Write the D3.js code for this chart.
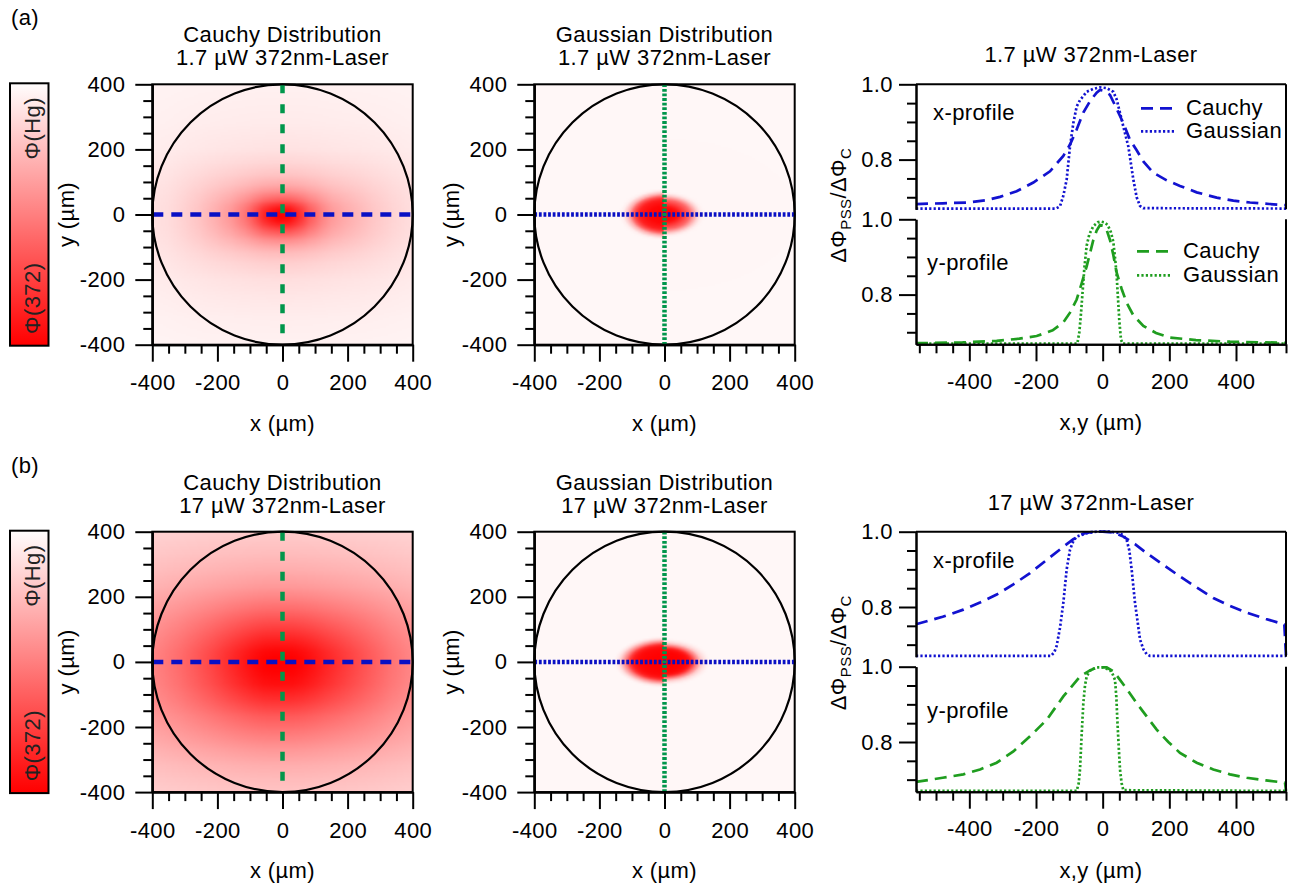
<!DOCTYPE html>
<html>
<head>
<meta charset="utf-8">
<script src="https://cdn.jsdelivr.net/npm/d3@7"></script>
<style>
  body { margin: 0; background: #fff; }
  svg  { display: block; }
</style>
</head>
<body>
<svg id="fig" width="1292" height="886"></svg>
<script>
// ─── Profile data (position in µm, ΔΦPSS/ΔΦc) ───
// (a) 1.7 µW
const a_cauchyX_pos = [-560,-480,-408,-350,-308,-258,-208,-158,-118,-98,-78,-58,-38,-18,-8,2,22,42,62,82,102,122,152,192,232,282,342,392,442,500,550];
const a_cauchyX_val = [0.682,0.684,0.686,0.692,0.701,0.716,0.739,0.769,0.810,0.840,0.880,0.925,0.955,0.978,0.985,0.983,0.972,0.935,0.897,0.852,0.825,0.795,0.765,0.745,0.730,0.713,0.699,0.691,0.686,0.682,0.679];
const a_gaussX_pos  = [-560,-140,-128,-118,-108,-98,-88,-78,-68,-48,-28,-8,12,32,42,57,67,77,92,102,112,122,550];
const a_gaussX_val  = [0.670,0.670,0.676,0.704,0.747,0.835,0.897,0.941,0.958,0.980,0.988,0.992,0.990,0.980,0.960,0.906,0.870,0.835,0.747,0.700,0.677,0.671,0.670];
const a_cauchyY_pos = [-560,-420,-318,-250,-198,-150,-118,-98,-78,-63,-48,-38,-28,-18,-8,2,12,22,32,42,57,72,92,122,160,202,280,382,550];
const a_cauchyY_val = [0.671,0.673,0.677,0.683,0.690,0.705,0.726,0.752,0.787,0.830,0.875,0.910,0.945,0.970,0.985,0.983,0.972,0.945,0.905,0.858,0.815,0.778,0.745,0.717,0.698,0.686,0.679,0.675,0.672];
const a_gaussY_pos  = [-560,-76,-70,-65,-60,-55,-48,-40,-28,-15,-5,5,15,25,32,38,42,46,50,55,60,550];
const a_gaussY_val  = [0.670,0.670,0.700,0.750,0.810,0.870,0.930,0.960,0.982,0.992,0.994,0.992,0.985,0.965,0.940,0.890,0.850,0.790,0.730,0.680,0.670,0.670];

// (b) 17 µW
const b_cauchyX_pos = [-560,-480,-418,-368,-318,-268,-218,-168,-118,-88,-58,-28,0,32,62,97,132,182,232,282,332,382,432,490,545,550];
const b_cauchyX_val = [0.754,0.774,0.793,0.812,0.833,0.860,0.890,0.925,0.960,0.980,0.995,1.0,1.0,0.998,0.987,0.967,0.943,0.912,0.881,0.852,0.824,0.803,0.785,0.768,0.754,0.670];
const b_gaussX_pos  = [-560,-155,-145,-138,-128,-118,-108,-98,-88,-78,-48,-18,22,52,62,72,80,87,97,105,112,122,132,142,550];
const b_gaussX_val  = [0.670,0.670,0.680,0.697,0.745,0.811,0.900,0.952,0.975,0.987,0.996,1.0,1.0,0.996,0.990,0.978,0.950,0.899,0.811,0.760,0.714,0.688,0.675,0.670,0.670];
const b_cauchyY_pos = [-560,-480,-418,-368,-318,-268,-218,-168,-118,-68,-38,-18,12,32,52,77,102,132,162,197,232,282,332,382,432,490,547,550];
const b_cauchyY_val = [0.694,0.705,0.714,0.727,0.745,0.775,0.815,0.859,0.921,0.974,0.990,0.998,0.998,0.988,0.965,0.935,0.903,0.868,0.833,0.800,0.771,0.745,0.727,0.714,0.705,0.698,0.692,0.670];
const b_gaussY_pos  = [-560,-78,-72,-68,-63,-58,-53,-48,-38,-18,2,22,30,37,41,44,48,52,57,62,550];
const b_gaussY_val  = [0.670,0.670,0.690,0.727,0.820,0.903,0.950,0.974,0.990,0.998,0.998,0.991,0.980,0.965,0.920,0.859,0.790,0.727,0.690,0.672,0.670];

// ─── Axis ticks / labels ───
const mapMajor   = [-400, -200, 0, 200, 400];
const mapMinor   = [-350, -300, -250, -150, -100, -50, 50, 100, 150, 250, 300, 350];
const profMajorX = [-400, -200, 0, 200, 400];
const profMinorX = d3.range(-550, 551, 50).filter(v => v % 200 !== 0);
const profMajorY = [0.8, 1.0];
const profMinorY = [0.7, 0.75, 0.85, 0.9, 0.95];
const panelTags  = ['(a)', '(b)'];
const powers     = ['1.7 µW', '17 µW'];

// ─── Layout ───
const FONT   = '"Liberation Sans", Arial, Helvetica, sans-serif';
const FS     = 22;
const ROW_T  = [84.3, 531.7];
const MAP_X  = [152.3, 534.3];
const MAP_W  = 260.4;
const PROF_L = 916, PROF_R = 1286;
const PAN_H  = 125, PAN_GAP = 10;
const BLUE_MAP = '#0a10c4', GREEN_MAP = '#00964b';
const BLUE = '#1212d0', GREEN = '#1f9d1f';
const BASE = 0.667;

const svg = d3.select('#fig')
  .attr('font-family', FONT)
  .style('letter-spacing', '0.4px');
svg.append('rect').attr('width', 1292).attr('height', 886).attr('fill', '#fff');
const defs = svg.append('defs');

// colour scale shared by maps and colour bar
const shade = d3.scaleLinear().domain([0, 1]).range(['#fffdfd', '#ff0000']);
const gamma = t => shade(Math.pow(Math.max(0, Math.min(1, t)), 0.8));

function txt(g, x, y, s, anchor = 'middle', size = FS) {
  return g.append('text').attr('x', x).attr('y', y).attr('text-anchor', anchor)
    .attr('font-size', size).attr('fill', '#000').text(s);
}

function styleAxis(sel) {
  sel.attr('font-family', FONT).attr('font-size', FS);
  sel.selectAll('path').attr('stroke', '#000').attr('stroke-width', 2);
  sel.selectAll('line').attr('stroke', '#000').attr('stroke-width', 2);
  sel.selectAll('text').attr('fill', '#000');
}

// half width at half maximum of a normalised profile
function halfWidth(n) {
  const inside = d3.range(-400, 401, 1).filter(u => n(u) > 0.5);
  return (d3.max(inside) - d3.min(inside)) / 2;
}

// ─── Heat map (Cauchy or Gaussian) ───
function heatMap(g, x0, top, kind, xPos, xVal, yPos, yVal, title1, title2, ylabX) {
  const sx = d3.scaleLinear().domain([-400, 400]).range([x0, x0 + MAP_W]);
  const sy = d3.scaleLinear().domain([-400, 400]).range([top + MAP_W, top]);

  const fx = d3.scaleLinear().domain(xPos).range(xVal).clamp(true);
  const fy = d3.scaleLinear().domain(yPos).range(yVal).clamp(true);
  const px = d3.max(xVal), py = d3.max(yVal);
  const nx = u => Math.max(1e-4, (fx(u) - BASE) / (px - BASE));
  const ny = u => Math.max(1e-4, (fy(u) - BASE) / (py - BASE));
  const k = halfWidth(nx) / halfWidth(ny);

  const N = 161;
  const cv = document.createElement('canvas');
  cv.width = N; cv.height = N;
  const ctx = cv.getContext('2d');
  const im = ctx.createImageData(N, N);
  const grid = d3.scaleLinear().domain([0, N - 1]).range([-400, 400]);
  for (let j = 0; j < N; j++) {
    for (let i = 0; i < N; i++) {
      const ux = grid(i), uy = -grid(j);
      let I;
      if (kind === 'cauchy') {
        I = 1 / (1 / nx(ux) + 1 / ny(uy) - 1);
      } else {
        const r = Math.sqrt(ux * ux + (k * uy) * (k * uy));
        I = nx(ux < 0 ? -r : r);
      }
      const c = d3.rgb(gamma(I));
      const p = (j * N + i) * 4;
      im.data[p] = c.r; im.data[p + 1] = c.g; im.data[p + 2] = c.b; im.data[p + 3] = 255;
    }
  }
  ctx.putImageData(im, 0, 0);

  g.append('image')
    .attr('href', cv.toDataURL())
    .attr('x', x0).attr('y', top).attr('width', MAP_W).attr('height', MAP_W)
    .attr('preserveAspectRatio', 'none');

  // aperture circle
  g.append('circle')
    .attr('cx', sx(0)).attr('cy', sy(0)).attr('r', sx(400) - sx(0))
    .attr('fill', 'none').attr('stroke', '#000').attr('stroke-width', 2.2);

  // profile cut lines
  const dashH = kind === 'cauchy' ? '11,8' : '2.8,1.8';
  const dashV = kind === 'cauchy' ? '9,11' : '2.8,1.8';
  g.append('line').attr('x1', sx(-400)).attr('x2', sx(400)).attr('y1', sy(0)).attr('y2', sy(0))
    .attr('stroke', BLUE_MAP).attr('stroke-width', 4.5).attr('stroke-dasharray', dashH);
  g.append('line').attr('x1', sx(0)).attr('x2', sx(0)).attr('y1', sy(400)).attr('y2', sy(-400))
    .attr('stroke', GREEN_MAP).attr('stroke-width', 4.5).attr('stroke-dasharray', dashV);

  // frame
  g.append('rect').attr('x', x0).attr('y', top).attr('width', MAP_W).attr('height', MAP_W)
    .attr('fill', 'none').attr('stroke', '#000').attr('stroke-width', 2);

  const fmt = d => String(d);
  const ax = g.append('g').attr('transform', `translate(0,${top + MAP_W})`);
  ax.call(d3.axisBottom(sx).tickValues(mapMajor).tickFormat(fmt).tickSize(17).tickSizeOuter(0).tickPadding(13));
  styleAxis(ax);
  const axm = g.append('g').attr('transform', `translate(0,${top + MAP_W})`);
  axm.call(d3.axisBottom(sx).tickValues(mapMinor).tickFormat('').tickSize(9).tickSizeOuter(0));
  styleAxis(axm);

  const ay = g.append('g').attr('transform', `translate(${x0},0)`);
  ay.call(d3.axisLeft(sy).tickValues(mapMajor).tickFormat(fmt).tickSize(17).tickSizeOuter(0).tickPadding(10));
  styleAxis(ay);
  const aym = g.append('g').attr('transform', `translate(${x0},0)`);
  aym.call(d3.axisLeft(sy).tickValues(mapMinor).tickFormat('').tickSize(9).tickSizeOuter(0));
  styleAxis(aym);

  txt(g, x0 + MAP_W / 2, top - 42, title1);
  txt(g, x0 + MAP_W / 2, top - 19, title2);
  txt(g, x0 + MAP_W / 2, top + MAP_W + 86, 'x (µm)');
  g.append('text').attr('transform', `translate(${ylabX},${top + MAP_W / 2}) rotate(-90)`)
    .attr('text-anchor', 'middle').attr('font-size', FS).text('y (µm)');
}

// ─── Profile panel pair ───
function profiles(g, top, xc, xg, yc, yg, power, legend) {
  const sx = d3.scaleLinear().domain([-560, 550]).range([PROF_L, PROF_R]);
  const syU = d3.scaleLinear().domain([0.668, 1]).range([top + PAN_H, top]);
  const lowTop = top + PAN_H + PAN_GAP;
  const syL = d3.scaleLinear().domain([0.668, 1]).range([lowTop + PAN_H, lowTop]);

  const curve = (s, pos, val, color, dash) => {
    const pts = pos.map((p, i) => [p, val[i]]);
    g.append('path').datum(pts)
      .attr('d', d3.line().x(d => sx(d[0])).y(d => s(d[1])))
      .attr('fill', 'none').attr('stroke', color).attr('stroke-width', 2.7)
      .attr('stroke-dasharray', dash);
  };
  const DASH = '12,7', DOT = '2.2,2.2';
  curve(syU, xc[0], xc[1], BLUE, DASH);
  curve(syU, xg[0], xg[1], BLUE, DOT);
  curve(syL, yc[0], yc[1], GREEN, DASH);
  curve(syL, yg[0], yg[1], GREEN, DOT);

  // frame lines
  const ln = (x1, y1, x2, y2) => g.append('line').attr('x1', x1).attr('y1', y1).attr('x2', x2).attr('y2', y2)
    .attr('stroke', '#000').attr('stroke-width', 2);
  ln(PROF_L, top, PROF_R, top);
  ln(PROF_R, top, PROF_R, top + PAN_H);
  ln(PROF_R, lowTop, PROF_R, lowTop + PAN_H);

  const f1 = d3.format('.1f');
  [syU, syL].forEach(s => {
    const a = g.append('g').attr('transform', `translate(${PROF_L},0)`);
    a.call(d3.axisLeft(s).tickValues(profMajorY).tickFormat(f1).tickSize(17).tickSizeOuter(0).tickPadding(6));
    styleAxis(a);
    const am = g.append('g').attr('transform', `translate(${PROF_L},0)`);
    am.call(d3.axisLeft(s).tickValues(profMinorY).tickFormat('').tickSize(9).tickSizeOuter(0));
    styleAxis(am);
  });

  const ax = g.append('g').attr('transform', `translate(0,${lowTop + PAN_H})`);
  ax.call(d3.axisBottom(sx).tickValues(profMajorX).tickFormat(d => String(d)).tickSize(17).tickSizeOuter(0).tickPadding(12));
  styleAxis(ax);
  const axm = g.append('g').attr('transform', `translate(0,${lowTop + PAN_H})`);
  axm.call(d3.axisBottom(sx).tickValues(profMinorX).tickFormat('').tickSize(9).tickSizeOuter(0));
  styleAxis(axm);

  txt(g, 1091, top - 22, `${power} 372nm-Laser`);
  txt(g, 933, top + 36, 'x-profile', 'start');
  txt(g, 927, top + 186, 'y-profile', 'start');
  txt(g, (PROF_L + PROF_R) / 2, lowTop + PAN_H + 86, 'x,y (µm)');

  const yl = g.append('text')
    .attr('transform', `translate(846,${top + 121}) rotate(-90)`)
    .attr('text-anchor', 'middle').attr('font-size', FS);
  yl.append('tspan').text('ΔΦ');
  yl.append('tspan').attr('font-size', 15).attr('dy', 5).text('PSS');
  yl.append('tspan').attr('dy', -5).text('/ΔΦ');
  yl.append('tspan').attr('font-size', 15).attr('dy', 5).text('C');

  if (legend) {
    const item = (y, color, dash, label, x1, x2, tx) => {
      g.append('line').attr('x1', x1).attr('x2', x2).attr('y1', y).attr('y2', y)
        .attr('stroke', color).attr('stroke-width', 2.7).attr('stroke-dasharray', dash);
      txt(g, tx, y + 7, label, 'start');
    };
    item(top + 24,  BLUE,  DASH, 'Cauchy',   1141, 1174, 1186);
    item(top + 47,  BLUE,  DOT,  'Gaussian', 1141, 1174, 1186);
    item(top + 167, GREEN, DASH, 'Cauchy',   1137, 1170, 1183);
    item(top + 191, GREEN, DOT,  'Gaussian', 1137, 1170, 1183);
  }
}

// ─── Colour bar ───
const grad = defs.append('linearGradient').attr('id', 'cbar')
  .attr('x1', 0).attr('y1', 0).attr('x2', 0).attr('y2', 1);
d3.range(0, 1.001, 0.1).forEach(t => {
  grad.append('stop').attr('offset', t).attr('stop-color', shade(t));
});

function colourBar(g, top) {
  g.append('rect').attr('x', 10).attr('y', top - 1).attr('width', 38.5).attr('height', MAP_W + 2)
    .attr('fill', 'url(#cbar)').attr('stroke', '#000').attr('stroke-width', 2);
  g.append('text').attr('transform', `translate(40,${top + 44}) rotate(-90)`)
    .attr('text-anchor', 'middle').attr('font-size', FS).attr('fill', '#222').text('Φ(Hg)');
  g.append('text').attr('transform', `translate(40,${top + 214}) rotate(-90)`)
    .attr('text-anchor', 'middle').attr('font-size', FS).attr('fill', '#222').text('Φ(372)');
}

// ─── Build both rows ───
const rowData = [
  { cx: [a_cauchyX_pos, a_cauchyX_val], gx: [a_gaussX_pos, a_gaussX_val],
    cy: [a_cauchyY_pos, a_cauchyY_val], gy: [a_gaussY_pos, a_gaussY_val] },
  { cx: [b_cauchyX_pos, b_cauchyX_val], gx: [b_gaussX_pos, b_gaussX_val],
    cy: [b_cauchyY_pos, b_cauchyY_val], gy: [b_gaussY_pos, b_gaussY_val] },
];

rowData.forEach((r, i) => {
  const top = ROW_T[i];
  const g = svg.append('g');
  txt(g, 11, top - 59, panelTags[i], 'start');
  colourBar(g, top);
  heatMap(g, MAP_X[0], top, 'cauchy', r.cx[0], r.cx[1], r.cy[0], r.cy[1],
    'Cauchy Distribution', `${powers[i]} 372nm-Laser`, 74);
  heatMap(g, MAP_X[1], top, 'gauss', r.gx[0], r.gx[1], r.gy[0], r.gy[1],
    'Gaussian Distribution', `${powers[i]} 372nm-Laser`, 459);
  profiles(g, top, r.cx, r.gx, r.cy, r.gy, powers[i], i === 0);
});
</script>
</body>
</html>
